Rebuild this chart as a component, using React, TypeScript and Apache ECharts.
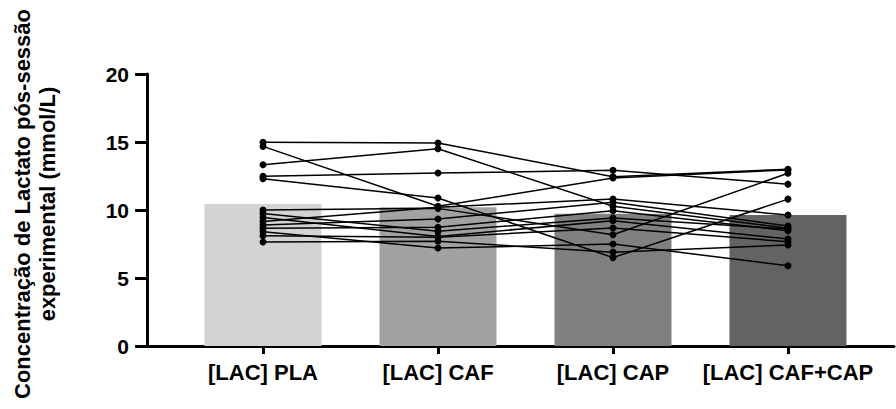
import React, { useEffect, useRef } from "react";
import * as echarts from "echarts";

const categories = ["[LAC] PLA", "[LAC] CAF", "[LAC] CAP", "[LAC] CAF+CAP"];
const barMeans = [10.44, 10.2, 9.72, 9.63];
const barColors = ["#d3d3d3", "#a2a2a5", "#808080", "#636363"];
const yTicks = [0, 5, 10, 15, 20];

// individual subject values (same subject order in every array)
const pla = [14.98, 14.68, 13.33, 12.48, 12.3, 10.0, 9.75, 9.45, 9.15, 8.9, 8.65, 8.4, 8.1, 7.65];
const caf = [14.93, 10.27, 14.5, 12.72, 10.88, 10.12, 8.43, 8.06, 10.2, 9.34, 8.73, 7.2, 8.0, 7.7];
const cap = [12.45, 12.35, 10.27, 12.92, 6.5, 8.18, 9.41, 9.21, 10.81, 10.57, 9.95, 7.5, 8.68, 6.9];
const cafcap = [13.0, 12.95, 8.65, 11.9, 10.8, 12.7, 8.6, 7.87, 9.63, 8.82, 8.48, 5.9, 7.67, 7.43];

export default function App() {
  const ref = useRef<HTMLDivElement>(null);
  useEffect(() => {
    if (!ref.current) return;
    const chart = echarts.init(ref.current, undefined, { renderer: "svg" });
    const font = "'Liberation Sans', Arial, sans-serif";
    const lineSeries = pla.map((v, i) => ({
      type: "line",
      data: [
        [0, v],
        [1, caf[i]],
        [2, cap[i]],
        [3, cafcap[i]],
      ],
      symbol: "circle",
      symbolSize: 7,
      itemStyle: { color: "#000" },
      lineStyle: { color: "#000", width: 1.5 },
      z: 5,
    }));
    chart.setOption({
      animation: false,
      grid: { left: 147, right: 2, top: 74, bottom: 63, outerBoundsMode: "none" },
      xAxis: {
        type: "value",
        min: -0.663,
        max: 3.606,
        splitLine: { show: false },
        axisLine: { onZero: true, lineStyle: { color: "#000", width: 3 } },
        axisTick: { customValues: [0, 1, 2, 3], length: 8, lineStyle: { color: "#000", width: 3 } },
        axisLabel: {
          customValues: [0, 1, 2, 3],
          formatter: (v: number) => categories[Math.round(v)],
          fontFamily: font,
          fontWeight: "bold",
          fontSize: 22,
          color: "#000",
          margin: 15,
        },
      },
      yAxis: {
        type: "value",
        min: 0,
        max: 20,
        interval: 5,
        splitLine: { show: false },
        axisLine: { show: true, onZero: false, lineStyle: { color: "#000", width: 3 } },
        axisTick: { show: true, length: 12, lineStyle: { color: "#000", width: 3 } },
        axisLabel: {
          formatter: (v: number) => (yTicks.includes(v) ? String(v) : ""),
          fontFamily: font,
          fontWeight: "bold",
          fontSize: 21,
          color: "#000",
          margin: 18,
        },
        name: "Concentração de Lactato pós-sessão\nexperimental (mmol/L)",
        nameLocation: "middle",
        nameRotate: 90,
        nameGap: 87,
        nameTextStyle: {
          fontFamily: font,
          fontWeight: "bold",
          fontSize: 22,
          color: "#000",
          lineHeight: 25,
          align: "center",
          padding: [0, 0, 0, 12],
        },
      },
      series: [
        {
          type: "bar",
          data: barMeans.map((v, i) => ({ value: [i, v], itemStyle: { color: barColors[i] } })),
          barWidth: 117,
          z: 2,
        },
        ...lineSeries,
      ],
    });
    return () => chart.dispose();
  }, []);
  return (
    <div
      ref={ref}
      style={{ position: "fixed", left: 0, top: 0, width: 896, height: 409, background: "#fff" }}
    />
  );
}
